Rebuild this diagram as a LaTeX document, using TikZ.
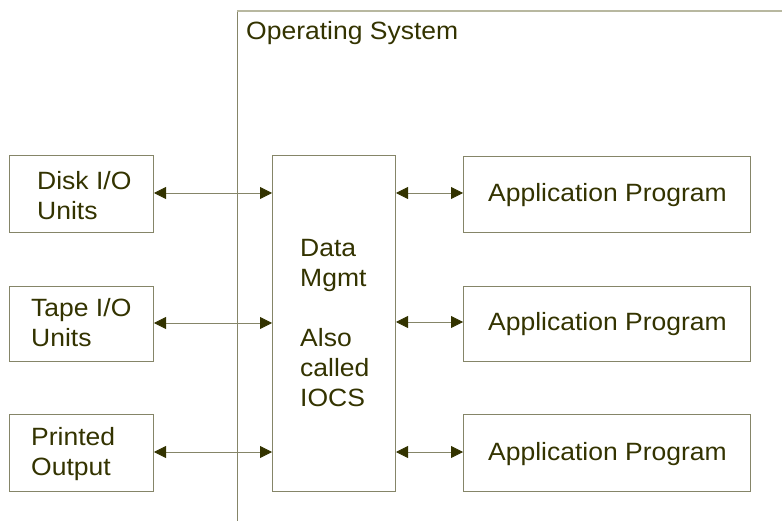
\documentclass[tikz,border=0pt]{standalone}
\usepackage{fontspec}
\setmainfont[FakeStretch=1.06]{Liberation Sans}
\usetikzlibrary{arrows.meta}
\definecolor{txt}{HTML}{333300}
\definecolor{ln}{HTML}{858568}
\definecolor{lnlight}{HTML}{B8B8A0}
\begin{document}
\begin{tikzpicture}[x=1pt,y=-1pt,
  box/.style={draw=ln,line width=1pt,inner sep=0pt,rectangle},
  lbl/.style={text=txt,inner sep=0pt,font=\fontsize{25}{30}\selectfont},
  mlbl/.style={lbl,align=left,anchor=north west},
  link/.style={draw=ln,line width=0.8pt,{Triangle[length=12pt,width=12pt,color=txt]}-{Triangle[length=12pt,width=12pt,color=txt]}}]
\useasboundingbox (0,0) rectangle (782,521);
% Operating system frame
\coordinate (osb) at (237,521);
\coordinate (ost) at (237,11);
\coordinate (osr) at (783,11);
\draw[ln,line width=1pt] (osb) -- (ost);
\draw[lnlight,line width=1.2pt] (ost) -- (osr);
\node[lbl,anchor=base west] (os) at (246,40) {Operating System};
% left boxes
\node[box,minimum width=144pt,minimum height=77pt,anchor=north west] (disk) at (9,155) {};
\node[box,minimum width=144pt,minimum height=75pt,anchor=north west] (tape) at (9,286) {};
\node[box,minimum width=144pt,minimum height=77pt,anchor=north west] (print) at (9,414) {};
\node[mlbl] (diskt) at (37,168) {\strut Disk I/O\\Units};
\node[mlbl] (tapet) at (31,295.5) {\strut Tape I/O\\Units};
\node[mlbl] (printt) at (31,424) {\strut Printed\\Output};
% data management
\node[box,minimum width=123pt,minimum height=336pt,anchor=north west] (dm) at (272,155) {};
\node[mlbl] (dmt) at (300,235) {\strut Data\\Mgmt\\[30pt]Also\\called\\IOCS};
% application boxes
\node[box,minimum width=287pt,minimum height=76pt,anchor=north west] (app1) at (463,156) {};
\node[box,minimum width=287pt,minimum height=75pt,anchor=north west] (app2) at (463,286) {};
\node[box,minimum width=287pt,minimum height=77pt,anchor=north west] (app3) at (463,414) {};
\node[lbl,anchor=base west] (app1t) at (488,202) {Application Program};
\node[lbl,anchor=base west] (app2t) at (488,331) {Application Program};
\node[lbl,anchor=base west] (app3t) at (488,460) {Application Program};
% connectors
\draw[link] (disk.east |- 0,193) -- (dm.west |- 0,193);
\draw[link] (tape.east |- 0,323) -- (dm.west |- 0,323);
\draw[link] (print.east |- 0,452) -- (dm.west |- 0,452);
\draw[link] (dm.east |- 0,193) -- (app1.west |- 0,193);
\draw[link] (dm.east |- 0,322) -- (app2.west |- 0,322);
\draw[link] (dm.east |- 0,452) -- (app3.west |- 0,452);
\end{tikzpicture}
\end{document}
